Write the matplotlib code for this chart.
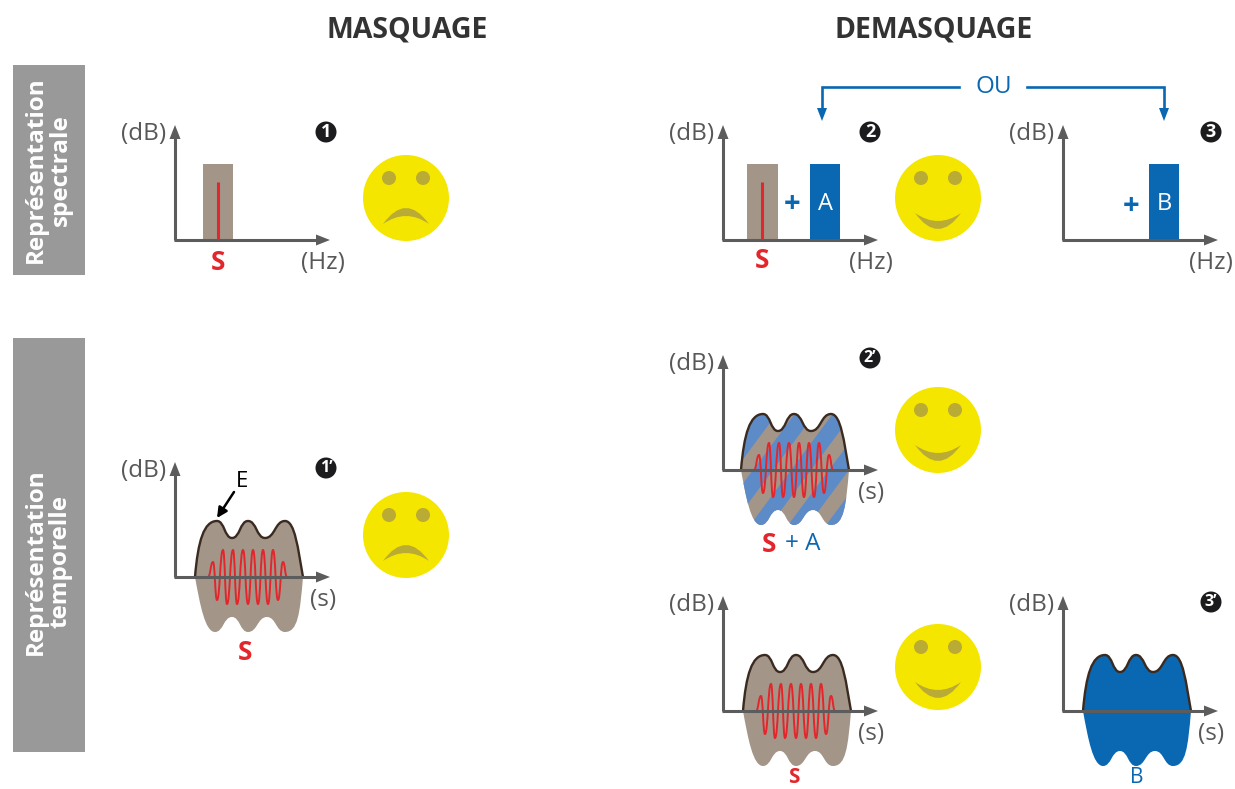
import matplotlib
matplotlib.use('Agg')
import matplotlib.pyplot as plt
import numpy as np
from matplotlib.path import Path
from matplotlib.patches import PathPatch, Rectangle, Circle, Polygon

plt.rcParams['font.family'] = ['Open Sans', 'DejaVu Sans']

# couleurs
TAUPE = '#a39689'
BLUE = '#0a67b1'
STRIPE = '#5d8bc7'
RED = '#e3262b'
GREY = '#5c5c5c'
TEXT = '#585858'
YEL = '#f5e600'
EYE = '#b9ab33'

# valeurs (decalage en x, hauteur par rapport a l'axe)
env_top_x = [20, 42, 57, 73, 90, 110, 128]
env_top_y = [0, 56, 39, 56, 39, 56, 0]
env_bot_x = [128, 110, 92, 73, 57, 40, 20]
env_bot_y = [0, -55, -40, -55, -40, -55, 0]
sig_x = [33, 38, 42, 48, 52, 58, 62, 68, 73, 78, 83, 88, 93, 98, 103, 108, 112]
sig_y = [0, 15, -23, 27, -27, 27, -27, 27, -27, 27, -27, 27, -27, 27, -23, 15, 0]

titres = ['MASQUAGE', 'DEMASQUAGE']
rep_labels = ['Représentation\nspectrale', 'Représentation\ntemporelle']

fig = plt.figure(figsize=(12.35, 7.89), dpi=100)
ax = fig.add_axes([0, 0, 1, 1])
ax.set_xlim(0, 1235)
ax.set_ylim(789, 0)
ax.axis('off')


def wave(xs, ys):   # tangente horizontale a chaque extremum
    verts = [(xs[0], ys[0])]
    codes = [Path.MOVETO]
    for i in range(len(xs) - 1):
        m = (xs[i] + xs[i + 1]) / 2
        verts += [(m, ys[i]), (m, ys[i + 1]), (xs[i + 1], ys[i + 1])]
        codes += [Path.CURVE4] * 3
    return verts, codes


def bosses(xs, ys, y0):   # comme wave mais les deux epaules tombent presque droit sur l'axe
    verts, codes = wave(xs[1:-1], ys[1:-1])
    sens = 1 if xs[1] > xs[0] else -1
    debut = [(xs[0], ys[0]),
             (xs[0] + sens * 3, y0 + (ys[1] - y0) * 0.65),
             (xs[1] - sens * 13, ys[1]),
             (xs[1], ys[1])]
    fin = [(xs[-2] + sens * 10, ys[-2]),
           (xs[-1] - sens * 5, y0 + (ys[-2] - y0) * 0.5),
           (xs[-1], ys[-1])]
    v = debut + verts[1:] + fin
    c = [Path.MOVETO] + [Path.CURVE4] * (len(v) - 1)
    return v, c


def axes_fleche(x0, y0, xlab, ylab='(dB)', w=155, h=115):
    ax.plot([x0, x0], [y0, y0 - h + 12], color=GREY, lw=2.2, solid_capstyle='butt', zorder=6)
    ax.plot([x0 - 1, x0 + w - 12], [y0, y0], color=GREY, lw=2.2, solid_capstyle='butt', zorder=6)
    ax.add_patch(Polygon([[x0 - 5.5, y0 - h + 14], [x0 + 5.5, y0 - h + 14], [x0, y0 - h]], color=GREY, lw=0, zorder=6))
    ax.add_patch(Polygon([[x0 + w - 14, y0 - 5.5], [x0 + w - 14, y0 + 5.5], [x0 + w, y0]], color=GREY, lw=0, zorder=6))
    ax.text(x0 - 9, y0 - h + 9, ylab, ha='right', va='center', fontsize=17.5, color=TEXT)
    ax.text(x0 + 148, y0 + 23, xlab, ha='center', va='center', fontsize=17.5, color=TEXT)


def badge(x, y, s):
    ax.add_patch(Circle((x, y), 10.5, color='#1c1c1e', lw=0, zorder=5))
    fs = 13 if len(s) == 1 else 11.5
    ax.text(x, y - 0.5, s, ha='center', va='center', fontsize=fs, color='white', fontweight='bold', zorder=6)


def smiley(x, y, happy):
    ax.add_patch(Circle((x, y), 43, color=YEL, lw=0))
    ax.add_patch(Circle((x - 17, y - 20), 7, color=EYE, lw=0))
    ax.add_patch(Circle((x + 17, y - 20), 7, color=EYE, lw=0))
    if happy:
        yb, c_in, c_out = y + 15, y + 31, y + 47
    else:
        yb, c_in, c_out = y + 26, y + 10, y - 6
    v = [(x - 23, yb), (x, c_out), (x + 23, yb), (x, c_in), (x - 23, yb), (x - 23, yb)]
    c = [Path.MOVETO, Path.CURVE3, Path.CURVE3, Path.CURVE3, Path.CURVE3, Path.CLOSEPOLY]
    ax.add_patch(PathPatch(Path(v, c), fc=EYE, ec='none'))


def barre(x, y0, w, color):
    ax.add_patch(Rectangle((x, y0 - 76), w, 76, fc=color, ec='none', zorder=2))


def raie(x, y0):
    ax.plot([x, x], [y0, y0 - 58], color=RED, lw=2.2, solid_capstyle='butt', zorder=3)


def enveloppe(x0, y0, color, stripes=False, signal=True):
    xt = [x0 + v for v in env_top_x]
    yt = [y0 - v for v in env_top_y]
    xb = [x0 + v for v in env_bot_x]
    yb = [y0 - v for v in env_bot_y]
    v1, c1 = bosses(xt, yt, y0)
    v2, c2 = bosses(xb, yb, y0)
    verts = v1 + v2[1:] + [v1[0]]
    codes = c1 + c2[1:] + [Path.CLOSEPOLY]
    shape = PathPatch(Path(verts, codes), fc=color, ec='none', zorder=2)
    ax.add_patch(shape)
    if stripes:
        for k in range(-4, 5):
            o = x0 + 80 + k * 38
            # bande diagonale centree sur o a la hauteur de l'axe
            band = Polygon([[o - 10 - 52, y0 + 70], [o + 10 - 52, y0 + 70], [o + 10 + 52, y0 - 70], [o - 10 + 52, y0 - 70]],
                           fc=STRIPE, ec='none', zorder=3)
            ax.add_patch(band)
            band.set_clip_path(shape)
    ax.add_patch(PathPatch(Path(v1, c1), fc='none', ec='#3a2a20', lw=1.7, zorder=4))
    if signal:
        v, c = wave([x0 + s for s in sig_x], [y0 - s for s in sig_y])
        ax.add_patch(PathPatch(Path(v, c), fc='none', ec=RED, lw=1.4, zorder=5))


# titres
ax.text(407, 30, titres[0], ha='center', va='center', fontsize=20.5, fontweight='bold', color='#333333')
ax.text(934, 30, titres[1], ha='center', va='center', fontsize=20.5, fontweight='bold', color='#333333')

# bandeaux gauche
ax.add_patch(Rectangle((13, 65), 72, 210, fc='#999999', ec='none'))
ax.add_patch(Rectangle((13, 338), 72, 414, fc='#999999', ec='none'))
ax.text(48, 170, rep_labels[0], rotation=90, ha='center', va='center', ma='center',
        fontsize=17.5, fontweight='bold', color='white', linespacing=1.05)
ax.text(48, 562, rep_labels[1], rotation=90, ha='center', va='center', ma='center',
        fontsize=17.5, fontweight='bold', color='white', linespacing=1.05)

# panneau 1
axes_fleche(175, 240, '(Hz)')
barre(203, 240, 30, TAUPE)
raie(218, 240)
ax.text(218, 263, 'S', ha='center', va='center', fontsize=19, fontweight='bold', color=RED)
badge(326, 132, '1')
smiley(406, 198, False)

# panneau 2
axes_fleche(723, 240, '(Hz)')
barre(747, 240, 31, TAUPE)
raie(762, 240)
barre(810, 240, 30, BLUE)
ax.text(825, 204, 'A', ha='center', va='center', fontsize=17, color='white', zorder=6)
ax.text(792, 204, '+', ha='center', va='center', fontsize=21, fontweight='bold', color=BLUE)
ax.text(762, 260, 'S', ha='center', va='center', fontsize=19, fontweight='bold', color=RED)
badge(870, 132, '2')
smiley(938, 198, True)

# panneau 3
axes_fleche(1063, 240, '(Hz)')
barre(1149, 240, 30, BLUE)
ax.text(1164, 204, 'B', ha='center', va='center', fontsize=17, color='white', zorder=6)
ax.text(1131, 206, '+', ha='center', va='center', fontsize=21, fontweight='bold', color=BLUE)
badge(1211, 132, '3')

# OU
ax.text(994, 87, 'OU', ha='center', va='center', fontsize=17.5, color=BLUE)
ax.plot([959, 822, 822], [87, 87, 110], color=BLUE, lw=1.9, solid_joinstyle='miter')
ax.plot([1027, 1164, 1164], [87, 87, 110], color=BLUE, lw=1.9, solid_joinstyle='miter')
ax.add_patch(Polygon([[817, 108], [827, 108], [822, 121]], color=BLUE, lw=0))
ax.add_patch(Polygon([[1159, 108], [1169, 108], [1164, 121]], color=BLUE, lw=0))

# panneau 1'
axes_fleche(175, 577, '(s)')
enveloppe(175, 577, TAUPE)
ax.text(245, 653, 'S', ha='center', va='center', fontsize=19, fontweight='bold', color=RED)
ax.text(242, 481, 'E', ha='center', va='center', fontsize=16, color='black')
ax.annotate('', xy=(217, 518), xytext=(234, 492),
            arrowprops=dict(arrowstyle='-|>', color='black', lw=1.8, mutation_scale=15, shrinkA=0, shrinkB=0))
badge(326, 468, '1’')
smiley(406, 535, False)

# panneau 2'
axes_fleche(723, 470, '(s)')
enveloppe(721, 470, TAUPE, stripes=True)
ax.text(769, 544, 'S', ha='center', va='center', fontsize=19, fontweight='bold', color=RED)
ax.text(785, 544, '+ A', ha='left', va='center', fontsize=17.5, color=BLUE)
badge(870, 358, '2’')
smiley(938, 430, True)

# panneau bas
axes_fleche(723, 711, '(s)')
enveloppe(723, 711, TAUPE)
ax.text(794, 783, 'S', ha='center', va='baseline', fontsize=15, fontweight='bold', color=RED)
smiley(938, 667, True)

axes_fleche(1063, 711, '(s)')
enveloppe(1063, 711, BLUE, signal=False)
ax.text(1137, 783, 'B', ha='center', va='baseline', fontsize=15, color=BLUE)
badge(1211, 602, '3’')

fig.savefig('out.png', dpi=100)
